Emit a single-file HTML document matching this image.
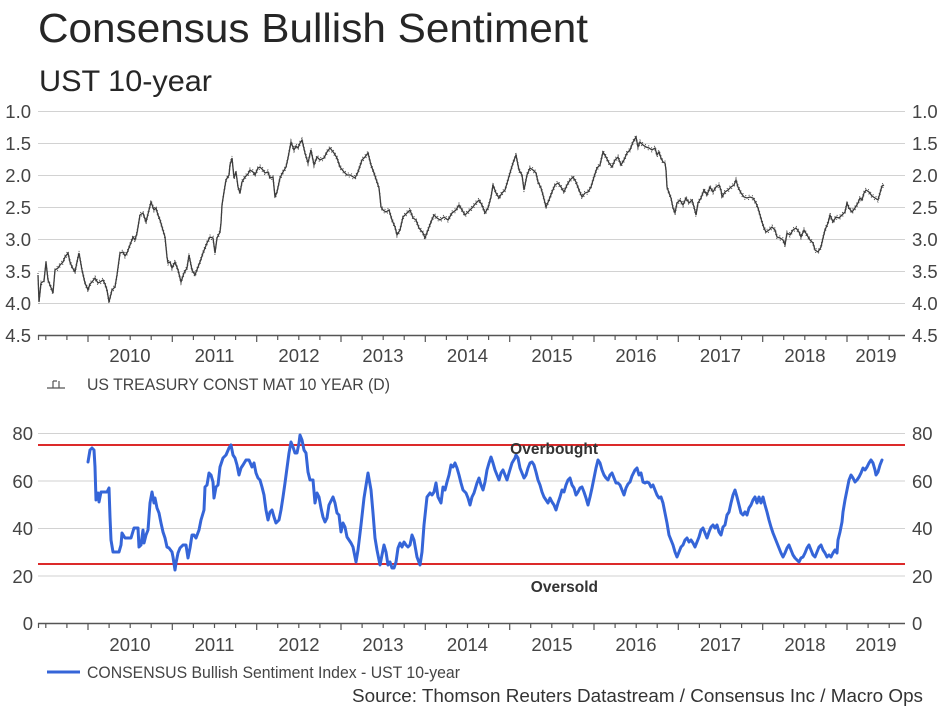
<!DOCTYPE html>
<html>
<head>
<meta charset="utf-8">
<style>
html,body{margin:0;padding:0;background:#fff;}
svg{display:block;}
text{font-family:"Liberation Sans",Arial,sans-serif;}
</style>
</head>
<body>
<svg width="941" height="706" viewBox="0 0 941 706" xmlns="http://www.w3.org/2000/svg">
<defs>
<polyline id="ust" points="38,275 39,302 41,283 44,281 46,262 48,280 50,285 53,293 55,270 58,268 60,265 63,262 65,257 68,253 70,262 72,267 75,272 77,262 79,253 82,270 85,283 88,290 90,284 92,282 95,278 98,283 100,282 103,280 105,284 107,290 109,302 112,290 115,287 117,275 120,253 123,252 125,256 127,253 130,245 133,237 135,240 137,233 140,215 143,213 146,222 149,210 151,202 154,210 156,208 158,215 160,220 162,227 165,237 167,257 168,263 170,262 172,268 175,262 178,270 181,282 184,273 187,268 189,255 192,270 195,275 198,267 200,262 203,253 205,248 207,243 210,237 213,238 215,253 217,238 220,232 221,223 222,205 224,192 226,180 229,175 230,165 232,158 234,178 236,172 238,187 240,193 242,182 245,177 248,174 250,170 253,172 255,175 258,168 260,167 263,170 265,173 268,172 270,178 273,177 275,197 277,192 280,178 283,172 286,167 288,158 291,142 294,150 296,146 298,148 300,143 302,140 305,153 308,163 311,150 314,165 317,157 320,160 324,158 327,152 330,148 334,153 337,158 340,167 344,172 347,175 350,175 355,178 358,172 362,160 365,157 368,153 371,165 374,173 377,182 379,188 380,197 381,207 383,210 386,212 389,210 392,220 395,227 397,235 400,230 403,217 407,213 410,210 413,218 416,220 419,228 423,233 425,238 428,230 431,222 434,215 437,218 440,220 444,217 448,220 452,213 456,210 459,205 462,210 465,215 468,212 472,208 476,203 479,200 482,205 485,213 488,208 491,197 493,185 496,193 499,198 502,193 505,190 508,180 510,173 513,163 516,155 519,170 522,175 524,190 527,175 530,168 533,170 536,173 538,182 541,188 543,195 546,207 549,200 552,192 555,185 558,183 561,187 564,192 567,185 570,180 573,177 576,182 579,190 582,197 585,193 588,192 591,187 594,177 597,168 600,165 603,152 606,157 609,163 612,167 615,160 618,157 621,165 624,160 627,153 630,150 633,142 636,137 638,147 640,142 643,145 646,147 649,148 652,150 655,148 657,155 659,152 661,158 663,162 665,163 666,170 667,187 669,193 671,198 673,208 675,213 677,203 680,200 683,205 686,198 689,203 692,200 694,207 696,215 698,203 701,198 704,190 707,195 710,187 713,192 716,187 719,185 721,190 722,197 725,192 728,190 731,187 734,185 736,180 738,187 741,193 744,197 747,198 750,197 753,198 756,203 758,208 760,215 762,222 764,228 766,232 769,230 772,227 775,230 777,237 780,238 783,240 785,245 787,233 790,235 793,230 796,228 799,232 801,237 804,230 807,235 810,240 813,243 815,250 818,252 821,247 823,238 825,230 828,223 830,215 833,222 836,217 839,218 842,215 845,212 847,203 849,208 852,212 855,208 858,203 860,198 862,200 864,193 866,190 869,192 872,196 875,198 878,200 880,193 882,186 884,185"/>
</defs>
<rect width="941" height="706" fill="#fff"/>
<!-- Titles -->
<text x="38" y="42" font-size="41" fill="#262626" textLength="550" lengthAdjust="spacingAndGlyphs">Consensus Bullish Sentiment</text>
<text x="39" y="91" font-size="30" fill="#262626" textLength="173" lengthAdjust="spacingAndGlyphs">UST 10-year</text>

<!-- TOP CHART gridlines -->
<g stroke="#d2d2d2" stroke-width="1">
<line x1="38" y1="111.5" x2="905" y2="111.5"/>
<line x1="38" y1="143.5" x2="905" y2="143.5"/>
<line x1="38" y1="175.5" x2="905" y2="175.5"/>
<line x1="38" y1="207.5" x2="905" y2="207.5"/>
<line x1="38" y1="239.5" x2="905" y2="239.5"/>
<line x1="38" y1="271.5" x2="905" y2="271.5"/>
<line x1="38" y1="303.5" x2="905" y2="303.5"/>
</g>
<line x1="38" y1="335.5" x2="905" y2="335.5" stroke="#555" stroke-width="1.5"/>
<g stroke="#555" stroke-width="1.2">
<line x1="38.5" y1="335" x2="38.5" y2="340"/>
<line x1="45.8" y1="335" x2="45.8" y2="340"/>
<line x1="66.9" y1="335" x2="66.9" y2="340"/>
<line x1="88" y1="335" x2="88" y2="342"/>
<line x1="109.1" y1="335" x2="109.1" y2="340"/>
<line x1="130.2" y1="335" x2="130.2" y2="340"/>
<line x1="151.2" y1="335" x2="151.2" y2="340"/>
<line x1="172.3" y1="335" x2="172.3" y2="342"/>
<line x1="193.4" y1="335" x2="193.4" y2="340"/>
<line x1="214.5" y1="335" x2="214.5" y2="340"/>
<line x1="235.6" y1="335" x2="235.6" y2="340"/>
<line x1="256.7" y1="335" x2="256.7" y2="342"/>
<line x1="277.7" y1="335" x2="277.7" y2="340"/>
<line x1="298.8" y1="335" x2="298.8" y2="340"/>
<line x1="319.9" y1="335" x2="319.9" y2="340"/>
<line x1="341" y1="335" x2="341" y2="342"/>
<line x1="362.1" y1="335" x2="362.1" y2="340"/>
<line x1="383.2" y1="335" x2="383.2" y2="340"/>
<line x1="404.2" y1="335" x2="404.2" y2="340"/>
<line x1="425.3" y1="335" x2="425.3" y2="342"/>
<line x1="446.4" y1="335" x2="446.4" y2="340"/>
<line x1="467.5" y1="335" x2="467.5" y2="340"/>
<line x1="488.6" y1="335" x2="488.6" y2="340"/>
<line x1="509.7" y1="335" x2="509.7" y2="342"/>
<line x1="530.7" y1="335" x2="530.7" y2="340"/>
<line x1="551.8" y1="335" x2="551.8" y2="340"/>
<line x1="572.9" y1="335" x2="572.9" y2="340"/>
<line x1="594" y1="335" x2="594" y2="342"/>
<line x1="615.1" y1="335" x2="615.1" y2="340"/>
<line x1="636.2" y1="335" x2="636.2" y2="340"/>
<line x1="657.2" y1="335" x2="657.2" y2="340"/>
<line x1="678.3" y1="335" x2="678.3" y2="342"/>
<line x1="699.4" y1="335" x2="699.4" y2="340"/>
<line x1="720.5" y1="335" x2="720.5" y2="340"/>
<line x1="741.6" y1="335" x2="741.6" y2="340"/>
<line x1="762.7" y1="335" x2="762.7" y2="342"/>
<line x1="783.7" y1="335" x2="783.7" y2="340"/>
<line x1="804.8" y1="335" x2="804.8" y2="340"/>
<line x1="825.9" y1="335" x2="825.9" y2="340"/>
<line x1="847" y1="335" x2="847" y2="342"/>
<line x1="868.1" y1="335" x2="868.1" y2="340"/>
<line x1="889.2" y1="335" x2="889.2" y2="340"/>
</g>
<!-- Top y labels -->
<g font-size="18.5" fill="#444" text-anchor="end">
<text x="31" y="118">1.0</text>
<text x="31" y="150">1.5</text>
<text x="31" y="182">2.0</text>
<text x="31" y="214">2.5</text>
<text x="31" y="246">3.0</text>
<text x="31" y="278">3.5</text>
<text x="31" y="310">4.0</text>
<text x="31" y="342">4.5</text>
</g>
<g font-size="18.5" fill="#444">
<text x="912" y="118">1.0</text>
<text x="912" y="150">1.5</text>
<text x="912" y="182">2.0</text>
<text x="912" y="214">2.5</text>
<text x="912" y="246">3.0</text>
<text x="912" y="278">3.5</text>
<text x="912" y="310">4.0</text>
<text x="912" y="342">4.5</text>
</g>
<g font-size="18.5" fill="#444" text-anchor="middle">
<text x="130" y="362">2010</text>
<text x="214.5" y="362">2011</text>
<text x="299" y="362">2012</text>
<text x="383" y="362">2013</text>
<text x="467.5" y="362">2014</text>
<text x="552" y="362">2015</text>
<text x="636" y="362">2016</text>
<text x="720.5" y="362">2017</text>
<text x="805" y="362">2018</text>
<text x="876" y="362">2019</text>
</g>
<!-- Top series (bar texture) -->
<use href="#ust" fill="none" stroke="#3a3a3a" stroke-width="1.3"/>
<use href="#ust" transform="translate(0,-2)" fill="none" stroke="#444" stroke-width="1" stroke-dasharray="1 2.5"/>
<use href="#ust" transform="translate(0,2)" fill="none" stroke="#444" stroke-width="1" stroke-dasharray="1 3" stroke-dashoffset="1.5"/>
<!-- Top legend -->
<g stroke="#555" stroke-width="1.2" fill="none">
<path d="M47,388 H65 M53,381 V388 M53,381 H57 M59,381 V388"/>
</g>
<text x="87" y="390" font-size="16.5" fill="#444" textLength="303" lengthAdjust="spacingAndGlyphs">US TREASURY CONST MAT 10 YEAR (D)</text>

<!-- BOTTOM CHART -->
<g stroke="#d2d2d2" stroke-width="1">
<line x1="38" y1="433.5" x2="905" y2="433.5"/>
<line x1="38" y1="481" x2="905" y2="481"/>
<line x1="38" y1="528.5" x2="905" y2="528.5"/>
<line x1="38" y1="576" x2="905" y2="576"/>
</g>
<line x1="38" y1="623.5" x2="905" y2="623.5" stroke="#555" stroke-width="1.5"/>
<g stroke="#555" stroke-width="1.2">
<line x1="38.5" y1="623" x2="38.5" y2="628"/>
<line x1="45.8" y1="623" x2="45.8" y2="628"/>
<line x1="66.9" y1="623" x2="66.9" y2="628"/>
<line x1="88" y1="623" x2="88" y2="630"/>
<line x1="109.1" y1="623" x2="109.1" y2="628"/>
<line x1="130.2" y1="623" x2="130.2" y2="628"/>
<line x1="151.2" y1="623" x2="151.2" y2="628"/>
<line x1="172.3" y1="623" x2="172.3" y2="630"/>
<line x1="193.4" y1="623" x2="193.4" y2="628"/>
<line x1="214.5" y1="623" x2="214.5" y2="628"/>
<line x1="235.6" y1="623" x2="235.6" y2="628"/>
<line x1="256.7" y1="623" x2="256.7" y2="630"/>
<line x1="277.7" y1="623" x2="277.7" y2="628"/>
<line x1="298.8" y1="623" x2="298.8" y2="628"/>
<line x1="319.9" y1="623" x2="319.9" y2="628"/>
<line x1="341" y1="623" x2="341" y2="630"/>
<line x1="362.1" y1="623" x2="362.1" y2="628"/>
<line x1="383.2" y1="623" x2="383.2" y2="628"/>
<line x1="404.2" y1="623" x2="404.2" y2="628"/>
<line x1="425.3" y1="623" x2="425.3" y2="630"/>
<line x1="446.4" y1="623" x2="446.4" y2="628"/>
<line x1="467.5" y1="623" x2="467.5" y2="628"/>
<line x1="488.6" y1="623" x2="488.6" y2="628"/>
<line x1="509.7" y1="623" x2="509.7" y2="630"/>
<line x1="530.7" y1="623" x2="530.7" y2="628"/>
<line x1="551.8" y1="623" x2="551.8" y2="628"/>
<line x1="572.9" y1="623" x2="572.9" y2="628"/>
<line x1="594" y1="623" x2="594" y2="630"/>
<line x1="615.1" y1="623" x2="615.1" y2="628"/>
<line x1="636.2" y1="623" x2="636.2" y2="628"/>
<line x1="657.2" y1="623" x2="657.2" y2="628"/>
<line x1="678.3" y1="623" x2="678.3" y2="630"/>
<line x1="699.4" y1="623" x2="699.4" y2="628"/>
<line x1="720.5" y1="623" x2="720.5" y2="628"/>
<line x1="741.6" y1="623" x2="741.6" y2="628"/>
<line x1="762.7" y1="623" x2="762.7" y2="630"/>
<line x1="783.7" y1="623" x2="783.7" y2="628"/>
<line x1="804.8" y1="623" x2="804.8" y2="628"/>
<line x1="825.9" y1="623" x2="825.9" y2="628"/>
<line x1="847" y1="623" x2="847" y2="630"/>
<line x1="868.1" y1="623" x2="868.1" y2="628"/>
<line x1="889.2" y1="623" x2="889.2" y2="628"/>
</g>
<!-- red bands -->
<line x1="38" y1="445" x2="905" y2="445" stroke="#dc2a2a" stroke-width="2"/>
<line x1="38" y1="564" x2="905" y2="564" stroke="#dc2a2a" stroke-width="2"/>

<g font-size="18.5" fill="#444" text-anchor="end">
<text x="33" y="440">80</text>
<text x="33" y="488">60</text>
<text x="33" y="535">40</text>
<text x="33" y="583">20</text>
<text x="33" y="630">0</text>
</g>
<g font-size="18.5" fill="#444">
<text x="912" y="440">80</text>
<text x="912" y="488">60</text>
<text x="912" y="535">40</text>
<text x="912" y="583">20</text>
<text x="912" y="630">0</text>
</g>
<g font-size="18.5" fill="#444" text-anchor="middle">
<text x="130" y="651">2010</text>
<text x="214.5" y="651">2011</text>
<text x="299" y="651">2012</text>
<text x="383" y="651">2013</text>
<text x="467.5" y="651">2014</text>
<text x="552" y="651">2015</text>
<text x="636" y="651">2016</text>
<text x="720.5" y="651">2017</text>
<text x="805" y="651">2018</text>
<text x="876" y="651">2019</text>
</g>

<!-- Blue series -->
<polyline fill="none" stroke="#3565d8" stroke-width="3" stroke-linejoin="round" stroke-linecap="round" points="88,462 90,450 92,448 94,450 95,467 96,500 98,493 99,502 101,492 104,492 107,492 109,488 110,517 111,540 113,552 116,552 119,552 121,545 122,533 125,538 128,538 131,538 134,528 138,528 139,547 141,545 143,530 144,543 146,535 148,530 150,503 152,492 154,503 155,498 157,508 159,513 161,523 163,532 165,538 167,547 169,548 172,552 173,557 175,570 176,563 178,553 180,548 183,545 186,545 188,558 190,548 192,535 194,535 196,538 199,530 201,520 204,510 205,487 207,485 209,473 211,475 213,482 214,498 216,487 218,485 220,467 223,458 226,455 229,448 231,445 233,455 235,458 237,465 239,475 241,468 243,465 246,460 249,460 252,467 254,463 256,473 258,478 260,480 262,487 264,495 266,510 268,520 270,512 272,510 274,517 276,523 279,520 281,510 283,497 285,483 287,468 289,453 291,442 293,447 295,453 297,453 299,443 300,435 302,440 304,450 306,453 308,472 310,480 313,480 315,503 317,493 319,497 321,508 323,517 325,522 327,518 329,505 333,497 335,503 337,513 339,515 341,532 343,523 345,527 347,537 349,540 351,543 353,547 354,552 356,562 358,550 361,525 364,498 368,473 371,490 373,513 375,538 377,550 380,565 382,555 384,545 386,552 388,565 390,562 392,568 394,568 396,562 398,548 400,543 402,547 404,542 406,545 408,547 410,545 412,535 414,540 417,557 420,565 422,552 424,525 427,497 430,493 432,495 434,492 436,483 438,497 441,503 443,487 445,490 447,482 449,475 451,465 453,467 455,463 457,468 459,475 461,483 463,490 466,493 468,498 470,505 472,497 474,493 477,483 479,478 481,485 483,490 485,482 487,470 489,463 491,457 493,463 495,470 497,475 499,480 501,473 503,470 505,475 507,480 509,473 512,463 515,458 516,455 518,458 520,468 522,473 524,478 526,475 528,468 530,463 532,462 534,465 536,472 538,480 540,485 542,492 544,497 546,500 548,503 550,498 552,502 554,505 556,510 558,503 560,497 562,490 564,492 566,485 568,480 570,478 572,485 574,488 576,495 578,492 580,488 582,487 584,492 586,498 588,505 590,497 592,488 594,478 596,468 598,460 600,463 602,470 604,475 606,478 608,480 610,475 612,473 614,478 616,483 618,483 620,485 622,490 624,495 626,488 628,484 630,482 632,476 635,470 637,468 639,475 641,473 643,482 645,483 647,482 649,483 651,487 653,485 655,490 657,495 659,498 661,497 663,503 665,513 667,523 669,535 671,540 673,545 675,552 677,557 679,552 681,547 683,545 685,540 687,538 689,542 691,540 693,543 695,547 697,542 699,537 701,530 703,528 705,533 707,538 709,532 711,527 713,525 715,528 717,525 719,532 721,535 723,527 725,525 727,515 729,512 731,503 733,495 735,490 737,497 739,505 741,513 743,515 745,512 747,515 749,508 751,505 753,500 755,497 757,503 759,497 761,503 763,497 765,505 767,512 769,520 771,527 773,533 775,538 777,543 779,548 781,553 783,557 785,553 787,548 789,545 791,550 793,555 795,558 797,560 799,562 801,558 803,557 805,553 807,548 809,545 811,550 813,555 815,557 817,552 819,547 821,545 823,550 825,553 827,557 829,555 831,557 833,553 835,550 837,553 838,540 840,532 842,522 843,512 845,500 847,490 849,480 851,475 853,478 855,482 857,480 859,477 861,473 863,468 865,470 867,467 869,463 871,460 873,463 875,470 876,475 878,472 880,465 882,460"/>

<text x="598" y="454" font-size="15.5" font-weight="bold" fill="#333" text-anchor="end">Overbought</text>
<text x="598" y="592" font-size="15.5" font-weight="bold" fill="#333" text-anchor="end">Oversold</text>

<!-- Bottom legend -->
<line x1="47" y1="672" x2="80" y2="672" stroke="#3565d8" stroke-width="3"/>
<text x="87" y="678" font-size="16.5" fill="#444" textLength="373" lengthAdjust="spacingAndGlyphs">CONSENSUS Bullish Sentiment Index - UST 10-year</text>

<!-- Source -->
<text x="352" y="702" font-size="18.5" fill="#333" textLength="571" lengthAdjust="spacingAndGlyphs">Source: Thomson Reuters Datastream / Consensus Inc / Macro Ops</text>
</svg>
</body>
</html>
